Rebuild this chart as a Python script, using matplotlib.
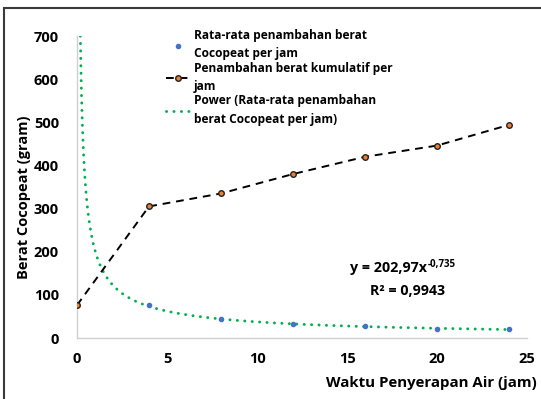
import numpy as np
import matplotlib
matplotlib.use("Agg")
import matplotlib.pyplot as plt
from matplotlib.patches import Rectangle

# Data
waktu = [0, 4, 8, 12, 16, 20, 24]
kumulatif = [76, 305, 335, 380, 420, 446, 494]
waktu_rata = [4, 8, 12, 16, 20, 24]
rata_rata = [76, 43, 32, 27, 22, 22]
# power trendline coefficients (as shown on chart)
coef_a = 202.97
coef_b = -0.735
eq_main = "y = 202,97x"
eq_exp = "-0,735"
r2_text = "R² = 0,9943"
xticks = [0, 5, 10, 15, 20, 25]
yticks = [0, 100, 200, 300, 400, 500, 600, 700]

FONT = 'Open Sans'
plt.rcParams['font.family'] = [FONT, 'DejaVu Sans']
plt.rcParams['font.weight'] = 'bold'

fig = plt.figure(figsize=(5.41, 3.99), dpi=100)
ax = fig.add_axes([77/541, 1-338/399, 450/541, 302/399])

# frame around figure (left and top visible)
fig.patches.append(Rectangle((4/541, -0.1), 1.2, (1-8/399)+0.1, transform=fig.transFigure,
                             fill=False, edgecolor='#3a3a3a', linewidth=1.5))

# trendline
x0 = (700/coef_a) ** (1/coef_b)
xt = np.linspace(x0, 24, 400)
yt = coef_a * xt ** coef_b
ax.plot(xt, yt, linestyle=(0, (0.05, 2.5)), color='#00B050', linewidth=2.1,
        dash_capstyle='round',
        label='Power (Rata-rata penambahan\nberat Cocopeat per jam)', zorder=2)
ax.plot(waktu_rata, rata_rata, linestyle='none', marker='o', markersize=3,
        color='#4472C4', label='Rata-rata penambahan berat\nCocopeat per jam', zorder=3)
ax.plot(waktu, kumulatif, linestyle=(0, (4, 3)), color='black', linewidth=1.4,
        marker='o', markersize=4, markerfacecolor='#ED7D31', markeredgecolor='#222222',
        markeredgewidth=1, label='Penambahan berat kumulatif per\njam', zorder=4)

ax.set_xlim(0, 25)
ax.set_ylim(0, 700)
ax.set_xticks(xticks)
ax.set_yticks(yticks)
for s in ['top', 'right']:
    ax.spines[s].set_visible(False)
for s in ['left', 'bottom']:
    ax.spines[s].set_color('#d0d0d0')
    ax.spines[s].set_linewidth(1)
ax.tick_params(axis='y', length=0, labelsize=10.5, pad=13)
ax.tick_params(axis='x', length=0, labelsize=10.5, pad=10)
for lbl in ax.get_xticklabels() + ax.get_yticklabels():
    lbl.set_fontweight('bold')

fig.text(24/541, 1-197/399, 'Berat Cocopeat (gram)', rotation=90, ha='center', va='center',
         fontsize=10.5, fontweight='bold')
fig.text(537/541, 1-383/399, 'Waktu Penyerapan Air (jam)', ha='right', va='center',
         fontsize=10.8, fontweight='bold')

t_eq = fig.text(350/541, 1-268/399, eq_main, ha='left', va='center',
                fontsize=10.3, fontweight='bold')
fig.draw_without_rendering()
fig.text(0, 0, eq_exp, fontsize=7, fontweight='bold', ha='left', va='top',
         transform=matplotlib.transforms.offset_copy(
             matplotlib.transforms.blended_transform_factory(
                 matplotlib.transforms.BboxTransformTo(t_eq.get_window_extent()),
                 matplotlib.transforms.BboxTransformTo(t_eq.get_window_extent())),
             fig=fig, x=0.5, y=2, units='points'))
# position superscript at top-right of main equation text
ext = t_eq.get_window_extent()
fig.texts[-1].set_position((0, 0))
fig.texts[-1].set_transform(matplotlib.transforms.offset_copy(
    fig.transFigure, fig=fig, x=0, y=0, units='points'))
fig.texts[-1].set_position(((ext.x1 + 0.5) / fig.bbox.width, (ext.y1 + 2) / fig.bbox.height))

fig.text(407/541, 1-291/399, r2_text, ha='center', va='center',
         fontsize=10.3, fontweight='bold')

h, l = ax.get_legend_handles_labels()
order = [1, 2, 0]
leg = fig.legend([h[i] for i in order], [l[i] for i in order], loc='upper left',
                 bbox_to_anchor=(166/541, 1-29/399), frameon=False, fontsize=8.6,
                 handlelength=2.0, handletextpad=0.35, labelspacing=0.1,
                 borderaxespad=0, borderpad=0)
for t in leg.get_texts():
    t.set_fontweight('bold')
    t.set_linespacing(1.55)

fig.savefig('out.png', dpi=100)
